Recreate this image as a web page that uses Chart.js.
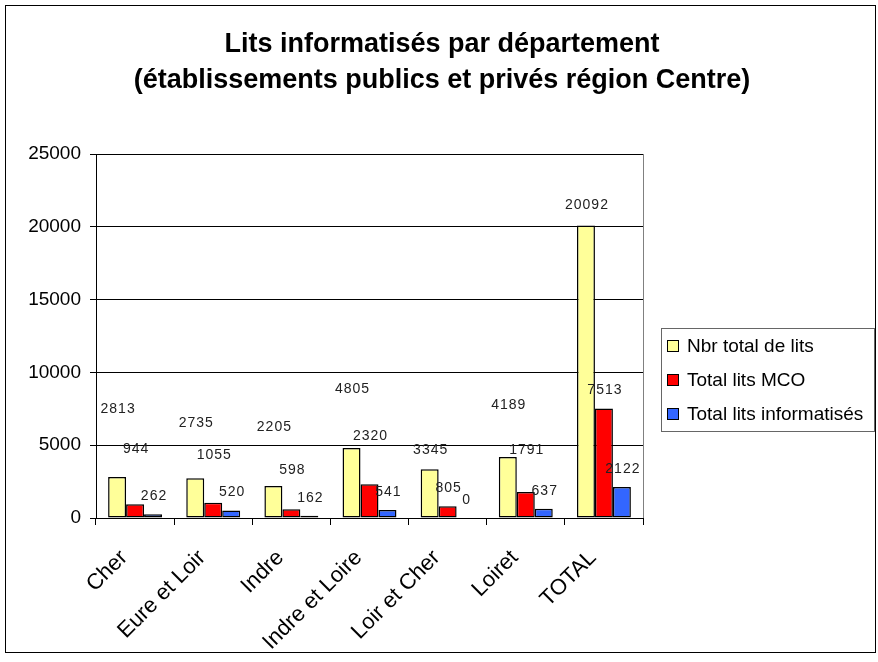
<!DOCTYPE html>
<html>
<head>
<meta charset="utf-8">
<script src="https://cdn.jsdelivr.net/npm/chart.js@4/dist/chart.umd.min.js"></script>
<style>
html,body{margin:0;padding:0;background:#fff;}
#wrap{width:878px;height:662px;position:relative;}
</style>
</head>
<body>
<div id="wrap"><canvas id="c" width="878" height="662"></canvas></div>
<script>
// ---- data ----
const categories = ['Cher', 'Eure et Loir', 'Indre', 'Indre et Loire', 'Loir et Cher', 'Loiret', 'TOTAL'];
const seriesNames = ['Nbr total de lits', 'Total lits MCO', 'Total lits informatisés'];
const totalLits = [2813, 2735, 2205, 4805, 3345, 4189, 20092];
const litsMCO = [944, 1055, 598, 2320, 805, 1791, 7513];
const litsInformatises = [262, 520, 162, 541, 0, 637, 2122];
const yTickValues = [0, 5000, 10000, 15000, 20000, 25000];
const titleLines = ['Lits informatisés par département', '(établissements publics et privés région Centre)'];

// ---- style ----
const colors = ['#FFFF99', '#FF0000', '#3366FF'];
const FONT = '"Liberation Sans", Arial, sans-serif';
// extra upward shift (px) of the value labels, as placed in the original
const labelLift = [
  [50, 37, 41, 41, 1, 34, 2],
  [37, 29, 21, 30, 0, 24, 0],
  [0, 0, 0, 0, 0, 0, 0]
];

const decorPlugin = {
  id: 'decor',
  beforeDraw(chart) {
    const ctx = chart.ctx;
    ctx.save();
    ctx.fillStyle = '#fff';
    ctx.fillRect(0, 0, chart.width, chart.height);
    ctx.restore();
  },
  afterDraw(chart) {
    const ctx = chart.ctx;
    const a = chart.chartArea;
    ctx.save();
    // plot area right border
    ctx.strokeStyle = '#808080';
    ctx.lineWidth = 1;
    ctx.beginPath();
    ctx.moveTo(Math.round(a.right) + 0.5, a.top);
    ctx.lineTo(Math.round(a.right) + 0.5, a.bottom);
    ctx.stroke();
    // outer border
    ctx.strokeStyle = '#000';
    ctx.strokeRect(5.5, 5.5, 870, 647);
    // title
    ctx.fillStyle = '#000';
    ctx.font = 'bold 27px ' + FONT;
    ctx.textAlign = 'center';
    ctx.textBaseline = 'middle';
    titleLines.forEach((t, i) => ctx.fillText(t, 442, 45 + i * 36));
    // legend
    const lx = 661, ly = 328, lw = 213, lh = 103;
    ctx.strokeStyle = '#666';
    ctx.strokeRect(lx + 0.5, ly + 0.5, lw, lh);
    ctx.font = '19px ' + FONT;
    ctx.textAlign = 'left';
    chart.data.datasets.forEach((ds, i) => {
      const cy = 346 + i * 34;
      ctx.fillStyle = ds.backgroundColor;
      ctx.fillRect(667.5, cy - 5.5, 11, 11);
      ctx.strokeStyle = '#000';
      ctx.strokeRect(667.5, cy - 5.5, 11, 11);
      ctx.fillStyle = '#000';
      ctx.fillText(ds.label, 687, cy + 1);
    });
    ctx.restore();
  },
  afterDatasetsDraw(chart) {
    const ctx = chart.ctx;
    ctx.save();
    ctx.font = '14px ' + FONT;
    ctx.letterSpacing = '1px';
    ctx.fillStyle = '#222';
    ctx.textAlign = 'center';
    ctx.textBaseline = 'middle';
    chart.data.datasets.forEach((ds, di) => {
      const meta = chart.getDatasetMeta(di);
      meta.data.forEach((bar, i) => {
        ctx.fillText(String(ds.data[i]), bar.x + 1, bar.y - 18 - labelLift[di][i]);
      });
    });
    ctx.restore();
  }
};

const makeDs = (label, data, color) => ({
  label, data,
  backgroundColor: color,
  borderColor: '#000',
  borderWidth: 1.5,
  borderSkipped: false,
  barPercentage: 1,
  categoryPercentage: 0.69
});

new Chart(document.getElementById('c'), {
  type: 'bar',
  data: {
    labels: categories,
    datasets: [
      makeDs(seriesNames[0], totalLits, colors[0]),
      makeDs(seriesNames[1], litsMCO, colors[1]),
      makeDs(seriesNames[2], litsInformatises, colors[2])
    ]
  },
  options: {
    responsive: false,
    animation: false,
    layout: { padding: { top: 154, right: 235, bottom: 0, left: 0 } },
    plugins: { legend: { display: false }, title: { display: false }, tooltip: { enabled: false } },
    scales: {
      y: {
        min: 0, max: 25000,
        afterBuildTicks(scale) { scale.ticks = yTickValues.map(v => ({ value: v })); },
        afterFit(scale) { scale.width = 96; },
        ticks: { color: '#000', font: { family: FONT, size: 19 }, padding: 9, callback: v => String(v) },
        grid: { color: '#000', lineWidth: 1, tickLength: 6 },
        border: { color: '#000', width: 1 }
      },
      x: {
        afterFit(scale) { scale.height = 144; },
        ticks: { color: '#000', font: { family: FONT, size: 22 }, minRotation: 45, maxRotation: 45, autoSkip: false, padding: 20, labelOffset: -11 },
        grid: { drawOnChartArea: false, color: '#000', tickLength: 7 },
        border: { color: '#000', width: 1 }
      }
    }
  },
  plugins: [decorPlugin]
});
</script>
</body>
</html>
